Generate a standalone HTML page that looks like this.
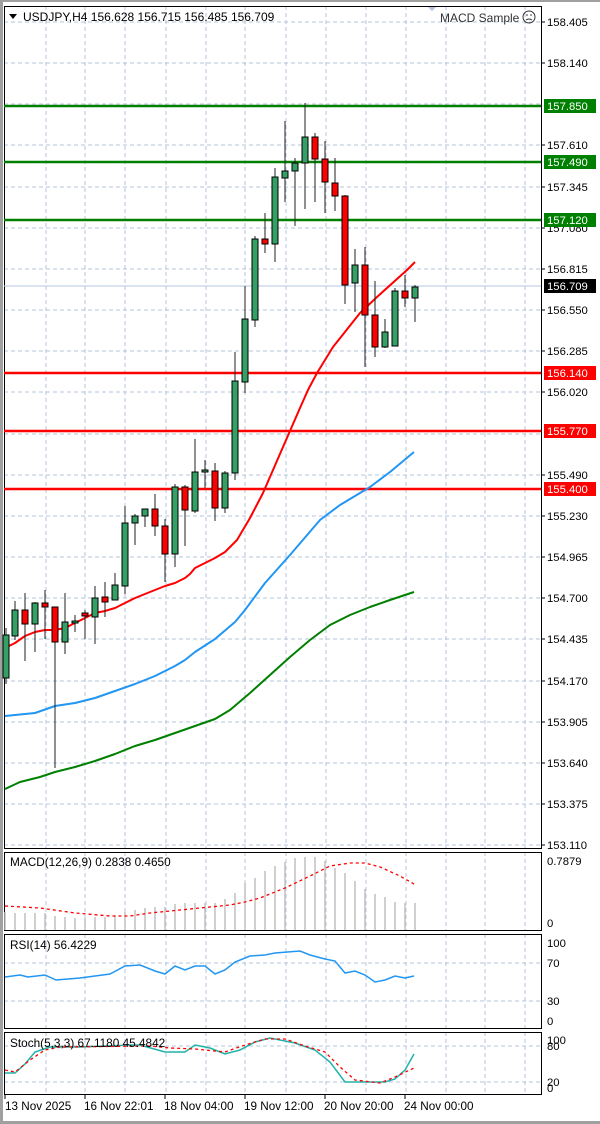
<!DOCTYPE html>
<html><head><meta charset="utf-8"><style>
html,body{margin:0;padding:0;background:#fff;}
svg{display:block;font-family:"Liberation Sans",sans-serif;}
</style></head><body>
<svg width="600" height="1124" viewBox="0 0 600 1124" xmlns="http://www.w3.org/2000/svg">
<rect x="0" y="0" width="600" height="1124" fill="#fff"/>
<rect x="0" y="0" width="3" height="1124" fill="#a0a0a0"/>
<rect x="0" y="0" width="600" height="2" fill="#a0a0a0"/>
<g stroke="#b4c4dc" stroke-width="1" stroke-dasharray="4,3">
<path d="M46 6V848M85 6V848M125 6V848M166 6V848M206 6V848M245 6V848M286 6V848M326 6V848M366 6V848M406 6V848M446 6V848M485 6V848M525 6V848"/>
<path d="M46 852V931M85 852V931M125 852V931M166 852V931M206 852V931M245 852V931M286 852V931M326 852V931M366 852V931M406 852V931M446 852V931M485 852V931M525 852V931"/>
<path d="M46 934V1029M85 934V1029M125 934V1029M166 934V1029M206 934V1029M245 934V1029M286 934V1029M326 934V1029M366 934V1029M406 934V1029M446 934V1029M485 934V1029M525 934V1029"/>
<path d="M46 1032V1094M85 1032V1094M125 1032V1094M166 1032V1094M206 1032V1094M245 1032V1094M286 1032V1094M326 1032V1094M366 1032V1094M406 1032V1094M446 1032V1094M485 1032V1094M525 1032V1094"/>
<path d="M4 22H541M4 63H541M4 104H541M4 145H541M4 187H541M4 228H541M4 269H541M4 310H541M4 351H541M4 392H541M4 434H541M4 475H541M4 516H541M4 557H541M4 598H541M4 639H541M4 681H541M4 722H541M4 763H541M4 804H541M4 845H541"/>
<path d="M4 963H541M4 1001H541M4 1046H541M4 1082H541"/>
</g>
<g fill="none" stroke="#000" stroke-width="1">
<rect x="4.5" y="6.5" width="537" height="842"/>
<rect x="4.5" y="852.5" width="537" height="78"/>
<rect x="4.5" y="934.5" width="537" height="94"/>
<rect x="4.5" y="1032.5" width="537" height="62"/>
</g>
<line x1="4" y1="286" x2="541" y2="286" stroke="#b4c8e0" stroke-width="1"/>
<g stroke-width="2.5">
<line x1="4" y1="106" x2="541" y2="106" stroke="#008000"/>
<line x1="4" y1="162" x2="541" y2="162" stroke="#008000"/>
<line x1="4" y1="220" x2="541" y2="220" stroke="#008000"/>
<line x1="4" y1="373" x2="541" y2="373" stroke="#ff0000"/>
<line x1="4" y1="431" x2="541" y2="431" stroke="#ff0000"/>
<line x1="4" y1="489" x2="541" y2="489" stroke="#ff0000"/>
</g>
<g fill="none" stroke-width="2" stroke-linejoin="round">
<polyline stroke="#008000" points="5,789 20,782 40,777 55,772 75,767 95,761 115,754 135,746 155,740 175,733 195,726 215,719 230,710 250,693 270,675 290,657 310,640 330,625 350,615 370,607 390,600 414,592"/>
<polyline stroke="#2196f3" points="5,716 15,715 35,713 55,706 75,703 95,698 115,691 135,684 155,676 175,666 185,660 195,652 215,639 235,622 245,610 265,583 290,555 320,520 340,505 370,487 390,472 414,452"/>
<polyline stroke="#ff0000" points="5,648 15,643 25,636 35,632 45,630 55,630 65,628 75,623 85,618 95,613 105,611 115,608 125,603 135,598 145,594 155,590 165,586 175,583 185,578 190,574 195,568 205,563 215,558 225,552 237,540 250,518 263,493 283,447 300,408 308,390 317,373 333,347 360,313 377,297 407,270 415,262"/>
</g>
<g stroke="#000" stroke-width="1">
<path stroke="#222" d="M6 628V684M15 601V640M25 593V661M35 602V652M45 590V639M55 607V768M65 593V654M75 615V632M85 610V639M95 586V644M105 582V617M115 573V600M125 506V594M135 514V545M145 509V527M155 494V536M165 519V582M175 484V567M185 485V546M195 439V513M205 460V488M215 463V521M225 471V513M235 352V480M245 286V393M255 236V327M265 213V253M275 168V262M285 121V202M295 158V226M305 103V209M315 133V202M325 141V213M335 158V211M345 195V304M355 249V312M365 247V367M375 281V357M385 319V348M395 288V346M405 275V307M415 285V322"/>
<g fill="#35a065">
<rect x="3" y="635" width="6" height="43"/><rect x="12" y="610" width="6" height="26"/><rect x="32" y="603" width="6" height="21"/>
<rect x="62" y="622" width="6" height="20"/><rect x="72" y="621" width="6" height="2"/><rect x="92" y="598" width="6" height="19"/>
<rect x="112" y="585" width="6" height="15"/><rect x="122" y="523" width="6" height="63"/><rect x="132" y="516" width="6" height="7"/>
<rect x="142" y="509" width="6" height="7"/><rect x="172" y="487" width="6" height="67"/><rect x="192" y="472" width="6" height="39"/>
<rect x="202" y="470" width="6" height="2"/><rect x="222" y="473" width="6" height="35"/><rect x="232" y="381" width="6" height="92"/>
<rect x="242" y="319" width="6" height="63"/><rect x="252" y="239" width="6" height="81"/><rect x="272" y="177" width="6" height="67"/>
<rect x="282" y="171" width="6" height="7"/><rect x="292" y="163" width="6" height="8"/><rect x="302" y="137" width="6" height="26"/>
<rect x="352" y="265" width="6" height="18"/><rect x="382" y="332" width="6" height="15"/><rect x="392" y="291" width="6" height="55"/>
<rect x="412" y="287" width="6" height="11"/>
</g>
<g fill="#ff0000">
<rect x="22" y="610" width="6" height="14"/><rect x="42" y="603" width="6" height="4"/><rect x="52" y="607" width="6" height="35"/>
<rect x="82" y="613" width="6" height="3"/><rect x="102" y="597" width="6" height="5"/><rect x="152" y="509" width="6" height="17"/>
<rect x="162" y="526" width="6" height="28"/><rect x="182" y="487" width="6" height="23"/><rect x="212" y="471" width="6" height="37"/>
<rect x="262" y="239" width="6" height="5"/><rect x="312" y="137" width="6" height="22"/><rect x="322" y="159" width="6" height="23"/>
<rect x="332" y="183" width="6" height="13"/><rect x="342" y="196" width="6" height="89"/><rect x="362" y="265" width="6" height="50"/>
<rect x="372" y="315" width="6" height="32"/><rect x="402" y="291" width="6" height="7"/>
</g>
</g>
<g stroke="#c0c0c0" stroke-width="1.5">
<path d="M5 912V930M15 913V930M25 913V930M35 913V930M45 913V930M55 916V930M65 917V930M75 918V930M85 918V930M95 917V930M105 917V930M115 915V930M125 912V930M135 910V930M145 908V930M155 907V930M165 907V930M175 904V930M185 903V930M195 903V930M205 903V930M215 903V930M225 899V930M235 893V930M245 883V930M255 878V930M265 871V930M275 866V930M285 862V930M295 858V930M305 857V930M315 857V930M325 861V930M335 868V930M345 873V930M355 881V930M365 889V930M375 894V930M385 897V930M395 902V930M405 903V930M415 903V930"/>
</g>
<polyline fill="none" stroke="#ff0000" stroke-width="1.3" stroke-dasharray="3,3" points="5,906 40,908 75,913 110,916 130,916 150,913 170,911 200,908 230,905 245,902 260,898 285,888 310,876 330,866 350,863 365,863 380,867 400,876 414,884"/>
<polyline fill="none" stroke="#2196f3" stroke-width="1.5" points="5,977 20,975 28,977 45,975 56,980 80,978 95,976 110,974 125,966 140,965 155,971 165,974 175,966 185,970 195,966 205,966 215,974 225,970 235,962 250,956 265,955 275,953 300,951 310,955 325,959 335,961 345,973 355,971 365,975 375,982 385,980 395,976 405,978 414,976"/>
<polyline fill="none" stroke="#20b2aa" stroke-width="1.5" points="5,1073 15,1073 25,1064 35,1052 50,1047 80,1047 130,1045 140,1045 165,1052 185,1052 195,1045 210,1048 225,1054 240,1050 255,1042 270,1038 295,1043 315,1050 330,1062 345,1082 385,1082 395,1079 405,1070 414,1054"/>
<polyline fill="none" stroke="#ff0000" stroke-width="1.3" stroke-dasharray="3,3" points="5,1070 15,1072 30,1060 45,1050 60,1047 150,1046 170,1048 195,1049 225,1052 245,1045 265,1039 285,1039 305,1046 325,1052 340,1067 355,1080 380,1083 395,1077 414,1068"/>
<g stroke="#000"><path d="M541 22h4M541 63h4M541 145h4M541 187h4M541 228h4M541 269h4M541 310h4M541 351h4M541 392h4M541 475h4M541 516h4M541 557h4M541 598h4M541 639h4M541 681h4M541 722h4M541 763h4M541 804h4M541 845h4"/></g>
<g font-size="11.3" fill="#000">
<text x="547" y="26">158.405</text><text x="547" y="67">158.140</text><text x="547" y="149">157.610</text>
<text x="547" y="191">157.345</text><text x="547" y="232">157.080</text><text x="547" y="273">156.815</text>
<text x="547" y="314">156.550</text><text x="547" y="355">156.285</text><text x="547" y="396">156.020</text>
<text x="547" y="479">155.490</text><text x="547" y="520">155.230</text><text x="547" y="561">154.965</text>
<text x="547" y="602">154.700</text><text x="547" y="643">154.435</text><text x="547" y="685">154.170</text>
<text x="547" y="726">153.905</text><text x="547" y="767">153.640</text><text x="547" y="808">153.375</text>
<text x="547" y="849">153.110</text>
<text x="547" y="865">0.7879</text><text x="547" y="927">0</text>
<text x="547" y="947">100</text><text x="547" y="967">70</text><text x="547" y="1005">30</text><text x="547" y="1025">0</text>
<text x="547" y="1044">100</text><text x="547" y="1050">80</text><text x="547" y="1086">20</text><text x="547" y="1092">0</text>
</g>
<g font-size="11.3">
<rect x="544" y="99" width="52" height="14" fill="#008000"/><text x="547" y="110" fill="#fff">157.850</text>
<rect x="544" y="155" width="52" height="14" fill="#008000"/><text x="547" y="166" fill="#fff">157.490</text>
<rect x="544" y="213" width="52" height="14" fill="#008000"/><text x="547" y="224" fill="#fff">157.120</text>
<rect x="544" y="279" width="52" height="14" fill="#000"/><text x="547" y="290" fill="#fff">156.709</text>
<rect x="544" y="366" width="52" height="14" fill="#ff0000"/><text x="547" y="377" fill="#fff">156.140</text>
<rect x="544" y="424" width="52" height="14" fill="#ff0000"/><text x="547" y="435" fill="#fff">155.770</text>
<rect x="544" y="482" width="52" height="14" fill="#ff0000"/><text x="547" y="493" fill="#fff">155.400</text>
</g>
<polygon points="9,14 17,14 13,19" fill="#000"/>
<text x="23" y="21" font-size="12" fill="#000">USDJPY,H4  156.628 156.715 156.485 156.709</text>
<polygon points="428,7 436,7 432,11" fill="#b4c4dc"/>
<text x="440" y="22" font-size="12" fill="#333">MACD Sample</text>
<circle cx="529" cy="17" r="6" fill="none" stroke="#333" stroke-width="1"/>
<circle cx="527" cy="15" r="0.8" fill="#333"/><circle cx="531" cy="15" r="0.8" fill="#333"/>
<path d="M526 20q3-2 6 0" fill="none" stroke="#333" stroke-width="1"/>
<text x="10" y="866" font-size="11.8" fill="#000">MACD(12,26,9) 0.2838 0.4650</text>
<text x="10" y="949" font-size="11.8" fill="#000">RSI(14) 56.4229</text>
<text x="10" y="1047" font-size="11.8" fill="#000">Stoch(5,3,3) 67.1180 45.4842</text>
<g stroke="#000"><path d="M5 1094v5M85 1094v5M165 1094v5M245 1094v5M325 1094v5M405 1094v5"/></g>
<g font-size="11.7" fill="#000">
<text x="5" y="1110">13 Nov 2025</text><text x="84" y="1110">16 Nov 22:01</text><text x="164" y="1110">18 Nov 04:00</text>
<text x="244" y="1110">19 Nov 12:00</text><text x="324" y="1110">20 Nov 20:00</text><text x="404" y="1110">24 Nov 00:00</text>
</g>
<rect x="0" y="1121" width="600" height="3" fill="#a0a0a0"/>
</svg>
</body></html>
